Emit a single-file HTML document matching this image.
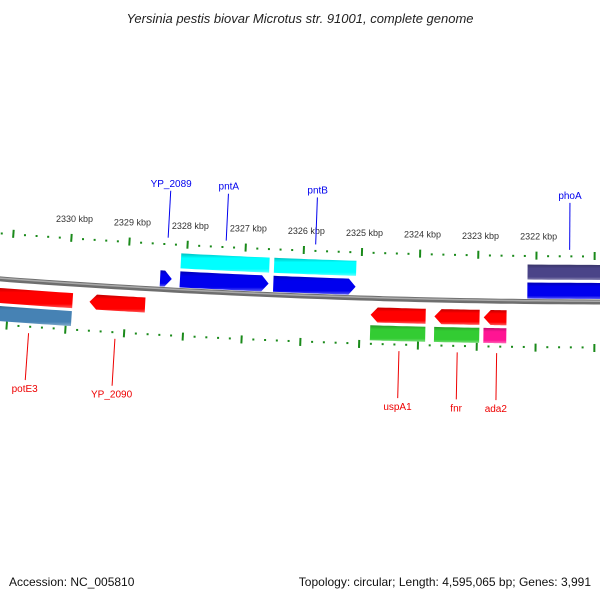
<!DOCTYPE html>
<html><head><meta charset="utf-8"><style>
html,body{margin:0;padding:0;background:#fff}
svg text{font-family:"Liberation Sans","DejaVu Sans",sans-serif}
</style></head><body>
<svg id="c" width="600" height="600" viewBox="0 0 600 600" xmlns="http://www.w3.org/2000/svg">
<defs>
<linearGradient id="gshade" x1="0" y1="0" x2="0" y2="1">
<stop offset="0" stop-color="#000" stop-opacity="0.25"/><stop offset="0.25" stop-color="#000" stop-opacity="0"/>
<stop offset="0.8" stop-color="#fff" stop-opacity="0"/><stop offset="1" stop-color="#fff" stop-opacity="0.35"/>
</linearGradient>
</defs>
<text x="300" y="23" text-anchor="middle" font-size="13" font-style="italic" fill="#222">Yersinia pestis biovar Microtus str. 91001, complete genome</text>
<text x="9" y="586" font-size="12" fill="#111">Accession: NC_005810</text>
<text x="591" y="586" text-anchor="end" font-size="12" fill="#111">Topology: circular; Length: 4,595,065 bp; Genes: 3,991</text>
<g id="marks"></g>
</svg>
<script>
// data
const tickKbp = [2322,2323,2324,2325,2326,2327,2328,2329,2330];
const tickLabels = ["2322 kbp","2323 kbp","2324 kbp","2325 kbp","2326 kbp","2327 kbp","2328 kbp","2329 kbp","2330 kbp"];
const geneNames = ["YP_2089","pntA","pntB","phoA","potE3","YP_2090","uspA1","fnr","ada2"];
const geneStart = [2328.44,2328.10,2326.50,2322.15,2331.33,2329.62,2324.82,2323.73,2322.89];
const geneEnd   = [2328.24,2326.58,2325.09,2320.70,2329.91,2328.67,2323.88,2322.96,2322.50];
const geneStrand = [1,1,1,1,-1,-1,-1,-1,-1];
const geneArrow = [1,1,1,0,0,1,1,1,1];
const geneCat = ["","cyan","cyan","#4a4488","steelblue","","#33cc33","#33cc33","#ff1493"];
const labelKbp = [2328.34,2327.34,2325.80,2321.43,2330.62,2329.15,2324.32,2323.33,2322.66];

const NS="http://www.w3.org/2000/svg";
const g=document.getElementById('marks');
const R=8357, CX=620, CY=302-8357, PXK=58.5, X0=68, K0=2330;
function pt(k,off){const s=X0+(K0-k)*PXK;const th=(s-CX)/R;const r=R+off;return [CX+r*Math.sin(th),CY+r*Math.cos(th)];}
function mk(tag,attrs){const e=document.createElementNS(NS,tag);for(const a in attrs)e.setAttribute(a,attrs[a]);g.appendChild(e);return e;}
function arcPts(k1,k2,off){const p=[];const n=12;for(let i=0;i<=n;i++){p.push(pt(k1+(k2-k1)*i/n,off));}return p;}
// backbone
let d="";for(let i=0;i<=60;i++){const k=2332-i*12/60;const p=pt(k,0);d+=(i?"L":"M")+p[0].toFixed(1)+","+p[1].toFixed(1);}
let e=mk('path',{d:d,stroke:'#6e6e6e','stroke-width':5,fill:'none'});


e=mk('path',{d:d,stroke:'#aaa','stroke-width':1.5,fill:'none',transform:'translate(0,-0.8)'});


// ticks
for(let k=2320;k<=2332;k+=0.2){
  const kk=Math.round(k*10)/10;const major=Math.abs(kk-Math.round(kk))<0.01;
  [-1,1].forEach((side)=>{
    if(major){const a=pt(kk,side*42),b=pt(kk,side*50);
      e=mk('line',{x1:a[0],y1:a[1],x2:b[0],y2:b[1],stroke:'#1a8a1a','stroke-width':2});
      
      
    }else{const a=pt(kk,side*45.5);
      e=mk('rect',{x:a[0]-1,y:a[1]-1,width:2,height:2,fill:'#1a8a1a'});
      
      }
  });
}
tickKbp.forEach((k,i)=>{const p=pt(k,-62);
  e=mk('text',{x:p[0]+2,y:p[1],'text-anchor':'middle','font-size':9,fill:'#333'});e.textContent=tickLabels[i];
  
  });
// genes
function band(k1,k2,o1,o2,fill,arrow,dir,name){
  let top,bot,poly;const mid=(o1+o2)/2;const tipL=7/PXK;
  if(arrow&&dir===1){top=arcPts(k1,k2+tipL,o1);bot=arcPts(k1,k2+tipL,o2);poly=top.concat([pt(k2,mid)]).concat(bot.reverse());}
  else if(arrow&&dir===-1){top=arcPts(k1-tipL,k2,o1);bot=arcPts(k1-tipL,k2,o2);poly=[pt(k1,mid)].concat(top).concat(bot.reverse());}
  else {top=arcPts(k1,k2,o1);bot=arcPts(k1,k2,o2);poly=top.concat(bot.reverse());}
  const s=poly.map(p=>p[0].toFixed(1)+","+p[1].toFixed(1)).join(" ");
  let el=mk('polygon',{points:s,fill:fill});
  
  
  el=mk('polygon',{points:s,fill:'url(#gshade)'});
  
  
}
geneNames.forEach((n,i)=>{
  const s=geneStrand[i];
  if(s===1){band(geneStart[i],geneEnd[i],-19,-3,'#0000ee',geneArrow[i],1,'gene-'+n);
    if(geneCat[i])band(geneStart[i],geneEnd[i],-37,-22,geneCat[i],0,1,'category-'+n);}
  else{band(geneStart[i],geneEnd[i],9,24,'#ff0000',geneArrow[i],-1,'gene-'+n);
    if(geneCat[i])band(geneStart[i],geneEnd[i],27,42,geneCat[i],0,-1,'category-'+n);}
});
// labels
geneNames.forEach((n,i)=>{
  const km=labelKbp[i];
  const side=geneStrand[i]===1?-1:1;const col=side<0?'#0000ee':'#ee0000';
  const a=pt(km,side*52),b=pt(km,side*99);
  e=mk('line',{x1:a[0],y1:a[1],x2:b[0],y2:b[1],stroke:col,'stroke-width':1});
  
  
  const t=pt(km,side*107);
  e=mk('text',{x:t[0],y:t[1]+4,'text-anchor':'middle','font-size':10,fill:col});e.textContent=n;
  
  
});
</script>
</body></html>
